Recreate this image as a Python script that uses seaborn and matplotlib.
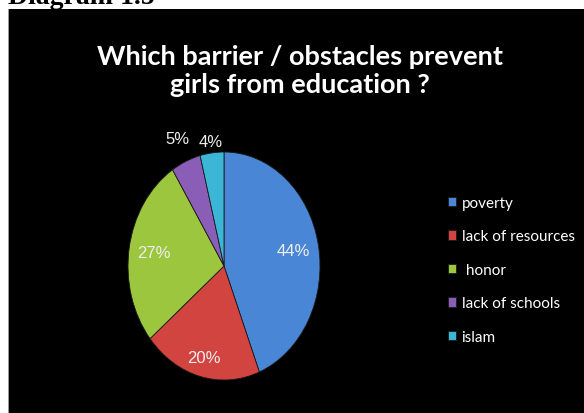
import matplotlib
matplotlib.use("Agg")
import matplotlib.pyplot as plt
from matplotlib.patches import Rectangle
import seaborn as sns

# Survey answers
categories = ["poverty", "lack of resources", "honor", "lack of schools", "islam"]
legend_labels = ["poverty", "lack of resources", " honor", "lack of schools", "islam"]
shares = [44, 20, 27, 5, 4]
title = "Which barrier / obstacles prevent\ngirls from education ?"
caption = "Diagram 1.5"

sns.set_theme(style="dark")
palette = sns.color_palette(["#4A86D6", "#D24440", "#9CC63E", "#8A5DB6", "#3CB6D6"])

W, H = 584, 414
fig = plt.figure(figsize=(W / 100, H / 100), dpi=100, facecolor="white")

# black slide panel with a thin grey left edge
fig.patches.append(Rectangle((9 / W, 0), 1 - 9 / W, 1 - 10 / H, transform=fig.transFigure,
                             facecolor="black", edgecolor="none", zorder=-5))
fig.patches.append(Rectangle((8 / W, 0), 1.2 / W, 1 - 10 / H, transform=fig.transFigure,
                             facecolor="#9a9a9a", edgecolor="none", zorder=-5))

# caption partly cut off by the top edge
fig.text(8 / W, 1 - 3.5 / H, caption, ha="left", va="baseline",
         family="Liberation Serif", weight="bold", fontsize=20, color="black")

fig.text(300 / W, 1 - 71 / H, title, ha="center", va="center", color="white",
         family="Lato", weight="bold", fontsize=19.5, linespacing=1.22)

# pie axes: centre (224, 267) px, radii 96 x 114 px
cx, cy, rx, ry = 224, 267, 96, 114
lim = 1.25
ax = fig.add_axes([(cx - lim * rx) / W, 1 - (cy + lim * ry) / H,
                   2 * lim * rx / W, 2 * lim * ry / H])
ax.set_facecolor("none")

wedges, texts, autotexts = ax.pie(
    shares, colors=palette, startangle=90, counterclock=False,
    autopct=lambda p: f"{p:.0f}%", pctdistance=0.74,
    wedgeprops=dict(edgecolor="#1a1a1a", linewidth=0.6),
    textprops=dict(color="#EEEEEE", fontsize=12, family="Liberation Sans"),
)
ax.set_aspect("auto")
ax.set_xlim(-lim, lim)
ax.set_ylim(-lim, lim)
ax.axis("off")

# small slices get their labels outside the pie
for t, v in zip(autotexts, shares):
    x, y = t.get_position()
    if v < 10:
        s = (1.22 if v == 5 else 1.1) / 0.74
        t.set_position((x * s, y * s))
    elif v == 20:
        t.set_position((x * 1.12, y * 1.12))

leg = fig.legend(wedges, legend_labels, loc="upper left",
                 bbox_to_anchor=(434 / W, 1 - 183 / H), frameon=False,
                 handlelength=0.55, handleheight=0.55, handletextpad=0.35,
                 labelspacing=1.28, prop=dict(family="Lato", size=11))
for txt in leg.get_texts():
    txt.set_color("white")

fig.savefig("out.png", dpi=100, facecolor="white")
